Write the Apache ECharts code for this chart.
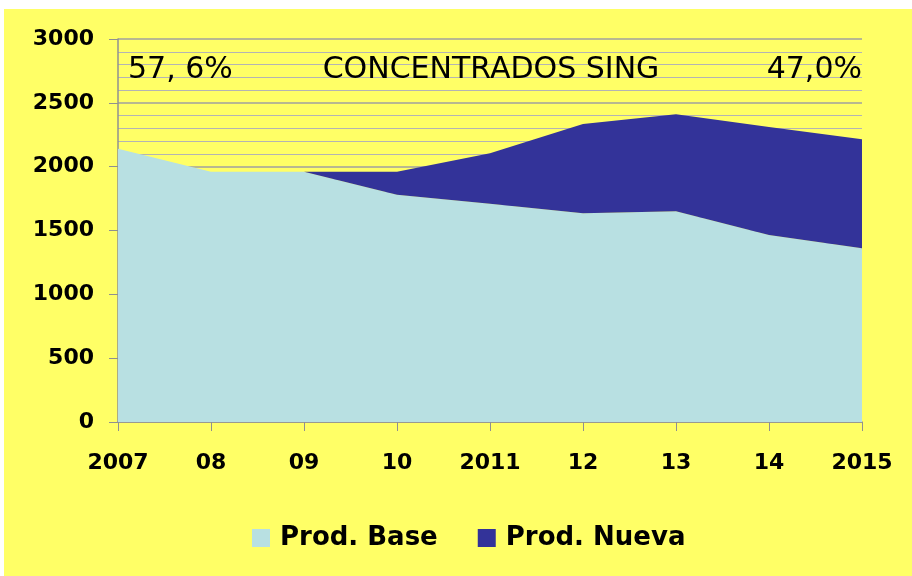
<!DOCTYPE html>
<html>
<head>
<meta charset="utf-8">
<script src="https://cdn.jsdelivr.net/npm/echarts@6/dist/echarts.min.js"></script>
<style>
  html, body { margin: 0; padding: 0; background: #ffffff; }
  #chart { position: absolute; left: 4px; top: 9px; width: 908px; height: 567px; background: #ffff66; }
</style>
</head>
<body>
<div id="chart"></div>
<script>
var years = ['2007', '08', '09', '10', '2011', '12', '13', '14', '2015']
var prodBase = [2140, 1960, 1960, 1780, 1710, 1635, 1650, 1465, 1360]
var prodNueva = [0, 0, 0, 180, 395, 700, 760, 845, 855]
var titleText = 'CONCENTRADOS SING'
var leftNote = '57, 6%'
var rightNote = '47,0%'

var chart = echarts.init(document.getElementById('chart'))

function note(text, x, align) {
  return {
    type: 'text',
    x: x,
    y: 61,
    z: 100,
    style: {
      text: text,
      fontFamily: 'DejaVu Sans',
      fontSize: 30,
      fill: '#000000',
      textAlign: align,
      textVerticalAlign: 'middle'
    }
  }
}

var tickFont = {
  color: '#000000',
  fontFamily: 'DejaVu Sans',
  fontWeight: 'bold',
  fontSize: 22
}

chart.setOption({
  backgroundColor: '#ffff66',
  animation: false,
  graphic: [
    note(titleText, 487, 'center'),
    note(leftNote, 124, 'left'),
    note(rightNote, 858, 'right')
  ],
  grid: {
    left: 114,
    right: 50,
    top: 30,
    bottom: 154
  },
  legend: {
    bottom: 20,
    left: 243,
    icon: 'rect',
    itemWidth: 18,
    itemHeight: 18,
    itemGap: 40,
    textStyle: {
      fontFamily: 'DejaVu Sans',
      fontWeight: 'bold',
      fontSize: 26,
      color: '#000000',
      padding: [0, 0, 0, 5]
    },
    data: ['Prod. Base', 'Prod. Nueva']
  },
  xAxis: {
    type: 'category',
    boundaryGap: false,
    data: years,
    axisLine: { show: true, lineStyle: { color: '#909090', width: 1.5 } },
    axisTick: { show: true, length: 9, lineStyle: { color: '#909090' } },
    axisLabel: Object.assign({ margin: 30 }, tickFont)
  },
  yAxis: {
    type: 'value',
    min: 0,
    max: 3000,
    interval: 500,
    axisLine: { show: true, lineStyle: { color: '#909090', width: 1.5 } },
    axisTick: { show: true, length: 9, lineStyle: { color: '#909090' } },
    axisLabel: Object.assign({
      margin: 24,
      formatter: function (v) { return String(v) }
    }, tickFont),
    splitLine: { show: true, lineStyle: { color: '#a0a0a0', width: 1.5 } },
    minorTick: { show: false, splitNumber: 5 },
    minorSplitLine: { show: true, lineStyle: { color: '#b4b4b4', width: 1 } }
  },
  series: [
    {
      name: 'Prod. Base',
      type: 'line',
      stack: 'total',
      data: prodBase,
      symbol: 'none',
      lineStyle: { width: 0 },
      itemStyle: { color: '#b8e0e2' },
      areaStyle: { color: '#b8e0e2', opacity: 1 }
    },
    {
      name: 'Prod. Nueva',
      type: 'line',
      stack: 'total',
      data: prodNueva,
      symbol: 'none',
      lineStyle: { width: 0 },
      itemStyle: { color: '#333399' },
      areaStyle: { color: '#333399', opacity: 1 }
    }
  ]
})
</script>
</body>
</html>
